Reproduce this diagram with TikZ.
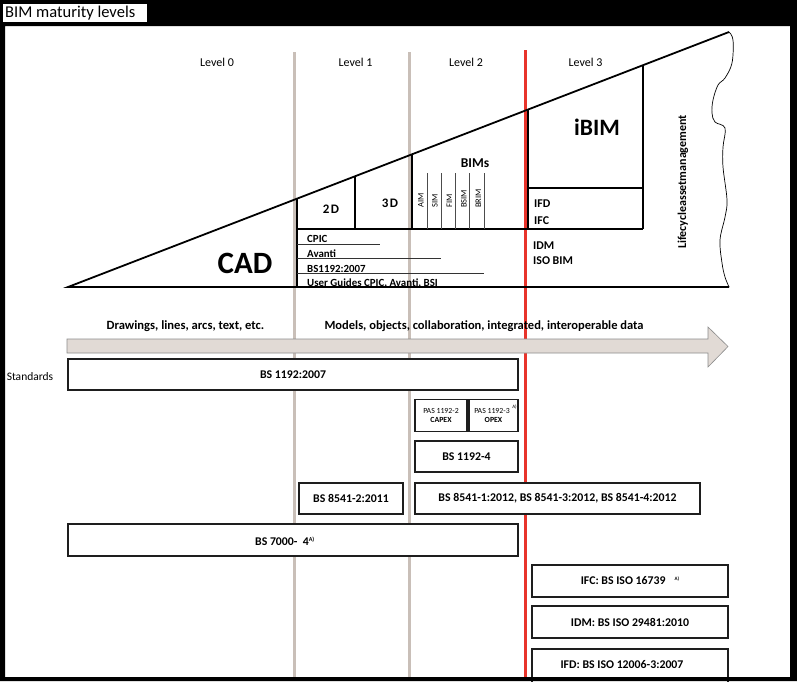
\documentclass[tikz,border=0pt]{standalone}
\usepackage{fontspec}
\setmainfont{Carlito}
\definecolor{lvlgray}{HTML}{C9BFB8}
\definecolor{lvlred}{HTML}{E8342B}
\definecolor{arrowfill}{HTML}{E1DAD5}
\definecolor{boxline}{HTML}{1E1E1E}
\newcommand\fsz[1]{\fontsize{#1}{#1}\selectfont}
\tikzset{
  lvl/.style={inner sep=0, font=\fsz{12}},
  tri/.style={line width=1.8, black},
  inner/.style={line width=1.5, black},
  col/.style={line width=1, black!70},
  uline/.style={line width=0.8, black!80},
  small/.style={inner sep=0, font=\fsz{10.9}\bfseries, anchor=base west},
  mid/.style={inner sep=0, font=\fsz{11.9}\bfseries, anchor=base west},
  rot/.style={inner sep=0, rotate=90, anchor=west, font=\fsz{8.5}},
  stdbox/.style={draw=boxline, line width=1.8, fill=white, inner sep=0, font=\fsz{11.8}\bfseries, align=center},
  pasbox/.style={draw=boxline, line width=1.8, fill=white, inner sep=0, font=\fsz{7.8}, align=center}
}
\begin{document}
\begin{tikzpicture}[x=1pt,y=-1pt]
\useasboundingbox (0,0) rectangle (797,681);
\fill[white] (0,0) rectangle (797,681);
% level dividers
\draw[lvlgray, line width=3] (294,52) -- (294,681);
\draw[lvlgray, line width=3] (409,52) -- (409,681);
\draw[lvlred, line width=3] (525,50) -- (525,681);
% level labels
\node[lvl] (l0) at (217,62) {Level 0};
\node[lvl] (l1) at (355.5,62) {Level 1};
\node[lvl] (l2) at (466,62) {Level 2};
\node[lvl] (l3) at (585.5,62) {Level 3};
% triangle
\coordinate (A) at (68,287);
\coordinate (T) at (729,32);
\coordinate (B) at (729,287);
\draw[tri] (T) -- (A) -- (B);
\draw[line width=0.7] plot[smooth, tension=0.6] coordinates {(729,32) (733,40) (732,63) (725,78) (718,85) (713,100) (712,113) (715,122) (725,128) (723,147) (723,167) (727,200) (725,217) (720,240) (722,263) (725,277) (729,287)};
% inner partitions
\draw[inner] (297,198.7) -- (297,287);
\draw[inner] (297,229) -- (643,229);
\draw[inner] (355,176.3) -- (355,229);
\draw[inner] (412,154.3) -- (412,229);
\draw[inner] (528,109.5) -- (528,229);
\draw[inner] (643,65.2) -- (643,229);
\draw[inner] (528,188) -- (643,188);
\foreach \xx in {427,441,455,469,484} \draw[col] (\xx,173) -- (\xx,229);
% underlines
\draw[uline] (297,244) -- (380,244);
\draw[uline] (297,258) -- (441,258);
\draw[uline] (297,273) -- (484,273);
% triangle texts
\node[inner sep=0, font=\fsz{31}\bfseries, anchor=base] (cad) at (245,273) {CAD};
\node[inner sep=0, font=\fsz{13}\bfseries\addfontfeature{LetterSpace=12}, anchor=base] (d2) at (331,213) {2D};
\node[inner sep=0, font=\fsz{13}\bfseries\addfontfeature{LetterSpace=12}, anchor=base] (d3) at (390,207) {3D};
\node[inner sep=0, font=\fsz{13.5}\bfseries, anchor=base] (bims) at (475,167) {BIMs};
\node[rot] (aim) at (421,208) {AIM};
\node[rot] (sim) at (435,208) {SIM};
\node[rot] (fim) at (449.5,208) {FIM};
\node[rot] (bsim) at (464,208) {BSIM};
\node[rot] (brim) at (478.5,208) {BRIM};
\node[inner sep=0, font=\fsz{23.5}\bfseries, anchor=base] (ibim) at (597,135) {iBIM};
\node[mid] (ifd) at (534,207) {IFD};
\node[mid] (ifc) at (534,224) {IFC};
\node[mid] (idm) at (533,249) {IDM};
\node[mid] (isobim) at (533,264) {ISO BIM};
\node[inner sep=0, rotate=90, font=\fsz{12}\bfseries] (lam) at (683,182) {Lifecycleassetmanagement};
\node[small] (cpic) at (307,242) {CPIC};
\node[small] (avanti) at (307,257) {Avanti};
\node[small] (bs1192t) at (307,272) {BS1192:2007};
\node[small] (guides) at (307,286) {User Guides CPIC, Avanti, BSI};
% arrow
\draw[fill=arrowfill, draw=black!45, line width=0.6] (67,339) -- (708,339) -- (708,327) -- (728,346.5) -- (708,367) -- (708,353) -- (67,353) -- cycle;
\node[inner sep=0, font=\fsz{12.6}\bfseries] (draw) at (185.5,326) {Drawings, lines, arcs, text, etc.};
\node[inner sep=0, font=\fsz{12.5}\bfseries] (models) at (484,326) {Models, objects, collaboration, integrated, interoperable data};
\node[inner sep=0, font=\fsz{11.5}] (std) at (30,377) {Standards};
% standard boxes
\node[stdbox, minimum width=450, minimum height=31] (b1192) at (293,374.5) {BS 1192:2007};
\node[pasbox, minimum width=52, minimum height=32] (pas2) at (441,415.5) {PAS 1192-2\\[2pt]\textbf{CAPEX}};
\node[pasbox, minimum width=49, minimum height=32] (pas3) at (493.5,415.5) {\hspace{-3pt}PAS 1192-3\\[2pt]\textbf{OPEX}};
\node[inner sep=0, font=\fsz{5}] (pas3a) at (514.5,407) {A)};
\node[stdbox, minimum width=103, minimum height=31] (b11924) at (466.5,456.5) {BS 1192-4};
\node[stdbox, minimum width=104, minimum height=31] (b85412) at (351,498.5) {BS 8541-2:2011};
\node[stdbox, minimum width=285, minimum height=31] (b8541) at (557.5,498.5) {BS 8541-1:2012, BS 8541-3:2012, BS 8541-4:2012};
\node[stdbox, minimum width=450, minimum height=32] (b7000) at (293,540) {};
\node[inner sep=0, font=\fsz{11.8}\bfseries] (b7000t) at (285,541) {BS 7000-\ \ 4\textsuperscript{\fsz{6}A)}};
\node[stdbox, minimum width=196, minimum height=32] (ifcb) at (630,581) {IFC: BS ISO 16739\hspace{9pt}\raisebox{4pt}{\fsz{5}A)}};
\node[stdbox, minimum width=196, minimum height=32] (idmb) at (630,622) {IDM: BS ISO 29481:2010};
\node[stdbox, minimum width=196, minimum height=42, anchor=north] (ifdb) at (630,648) {};
\node[inner sep=0, font=\fsz{11.8}\bfseries] (ifdt) at (622,665) {IFD: BS ISO 12006-3:2007};
% frame
\fill[black, even odd rule] (0,0) rectangle (797,681) (5,26) rectangle (790,677);
\fill[white] (3,4) rectangle (147,22);
\node[inner sep=0, anchor=west, font=\fsz{16.5}] (title) at (5,13.5) {BIM maturity levels};
\end{tikzpicture}
\end{document}
